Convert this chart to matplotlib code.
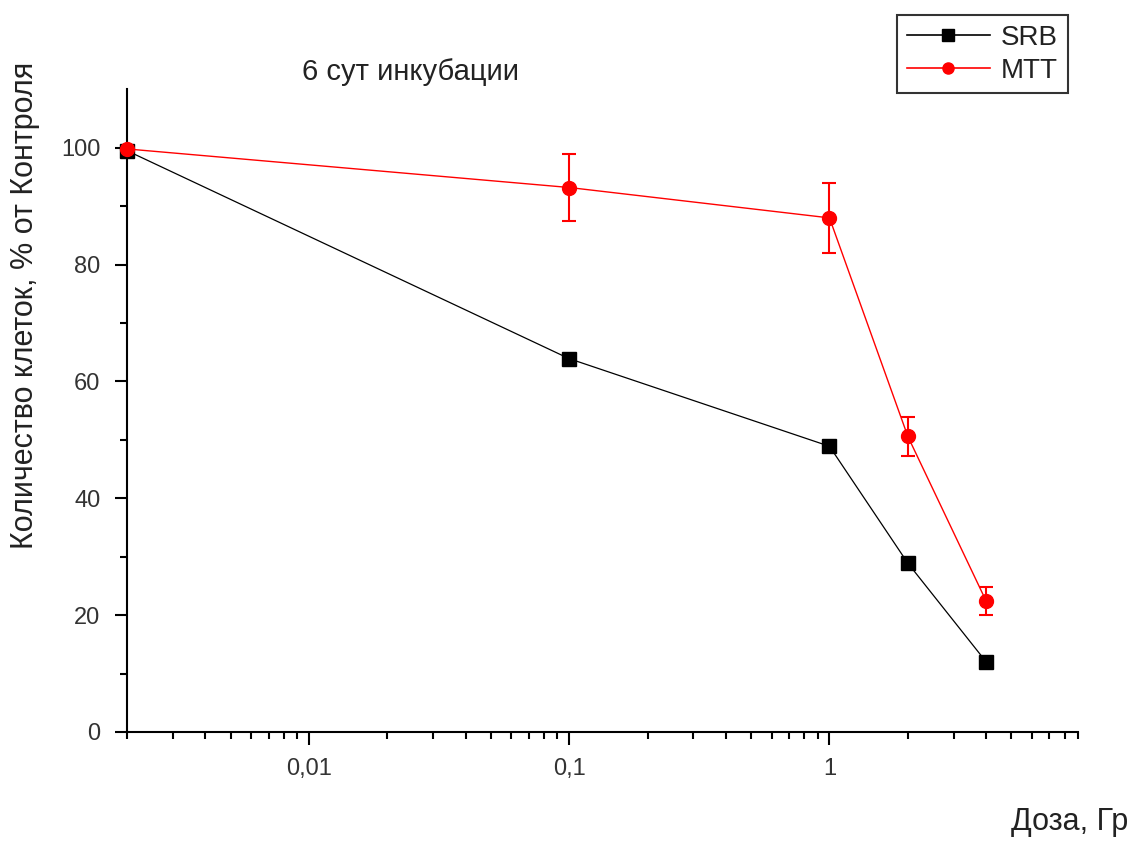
import numpy as np
import matplotlib.pyplot as plt
from matplotlib.lines import Line2D
from matplotlib.ticker import FixedLocator, NullFormatter

plt.rcParams['font.family'] = ['Liberation Sans', 'DejaVu Sans']

# доза (контроль отложен на левом краю оси)
dose = [0.002, 0.1, 1, 2, 4]
srb = [99.5, 63.9, 48.9, 28.9, 12.0]
mtt = [99.8, 93.2, 88.0, 50.6, 22.4]
mtt_err = [0, 5.8, 6.0, 3.3, 2.4]

fig = plt.figure(figsize=(11.31, 8.43), dpi=100)
ax = fig.add_axes([0.1123, 0.1317, 0.8407, 0.7623])

ax.plot(dose, srb, '-s', color='black', lw=0.9, ms=10, clip_on=False, zorder=3)
ax.errorbar(dose, mtt, yerr=mtt_err, fmt='-o', color='red', lw=1.0, ms=10,
            elinewidth=1.5, capsize=5, capthick=1.5, clip_on=False, zorder=4)

ax.set_xscale('log')
ax.set_xlim(0.002, 9)
ax.set_ylim(0, 110)

for s in ['top', 'right']:
    ax.spines[s].set_visible(False)
for s in ['left', 'bottom']:
    ax.spines[s].set_linewidth(1.5)

ax.set_yticks([0, 20, 40, 60, 80, 100])
ax.yaxis.set_minor_locator(FixedLocator([10, 30, 50, 70, 90]))
ax.set_xticks([0.01, 0.1, 1])
ax.set_xticklabels(['0,01', '0,1', '1'])
minor = [k * 10.0 ** e for e in (-3, -2, -1, 0) for k in range(2, 10)]
ax.xaxis.set_minor_locator(FixedLocator([m for m in minor if 0.002 <= m <= 9]))
ax.xaxis.set_minor_formatter(NullFormatter())

ax.tick_params(which='major', length=9, width=1.5, direction='out', pad=10)
ax.tick_params(which='minor', length=5, width=1.5, direction='out')
for lab in ax.get_xticklabels() + ax.get_yticklabels():
    lab.set_fontsize(17)
    lab.set_color('#333333')

fig.text(410 / 1131, 1 - 72 / 843, '6 сут инкубации', fontsize=21, ha='center', va='center', color='#222222')
fig.text(25 / 1131, 1 - 305 / 843, 'Количество клеток, % от Контроля', rotation=90,
         fontsize=22, ha='center', va='center', color='#222222')
fig.text(1128 / 1131, 1 - 822 / 843, 'Доза, Гр', fontsize=22, ha='right', va='center', color='#222222')

handles = [Line2D([], [], color='black', lw=1.2, marker='s', ms=8),
           Line2D([], [], color='red', lw=1.2, marker='o', ms=8)]
leg = ax.legend(handles, ['SRB', 'MTT'], loc='upper left', bbox_to_anchor=(897 / 1131, 1 - 15 / 843),
                bbox_transform=fig.transFigure, fontsize=20, frameon=True, fancybox=False,
                edgecolor='black', handlelength=3.0, borderpad=0.35, labelspacing=0.25,
                handletextpad=0.4, borderaxespad=0)
leg.get_frame().set_linewidth(1.5)
for t in leg.get_texts():
    t.set_color('#222222')

fig.savefig('out.png', dpi=100)
